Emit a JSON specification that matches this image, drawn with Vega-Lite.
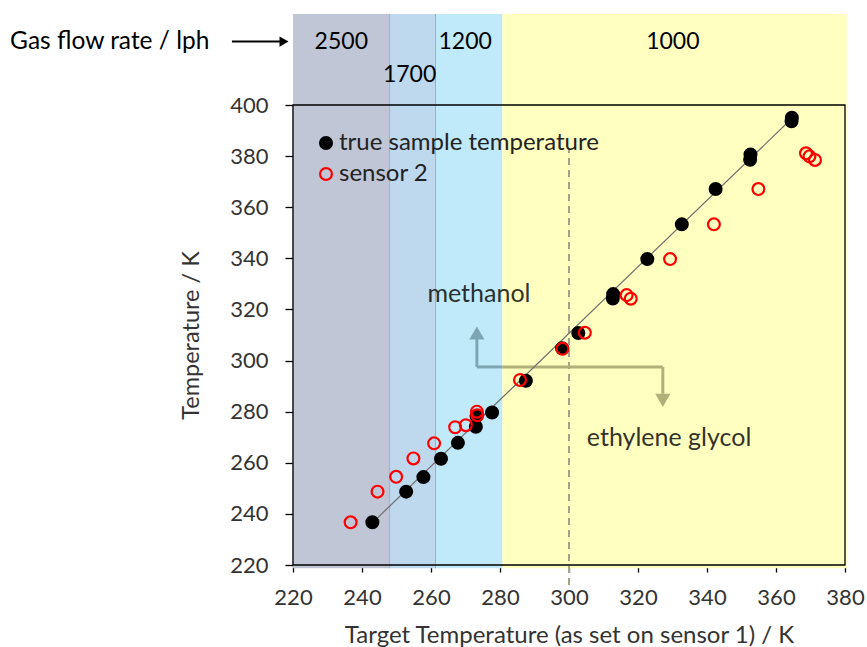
{
  "$schema": "https://vega.github.io/schema/vega-lite/v6.json",
  "width": 552,
  "height": 460,
  "autosize": {"type": "none"},
  "padding": {"left": 293, "top": 105, "right": 22, "bottom": 82},
  "background": "white",
  "config": {"font": "Lato", "view": {"stroke": null}},
  "datasets": {
    "bands": [
      {"x": 220, "x2": 248, "flow": "2500"},
      {"x": 248, "x2": 261.3, "flow": "1700"},
      {"x": 261.3, "x2": 280.7, "flow": "1200"},
      {"x": 280.7, "x2": 380.5, "flow": "1000"}
    ],
    "bandEdges": [{"x": 248}, {"x": 261.3}],
    "bandLabels": [
      {"label": "2500", "x": 234.0, "y": 424.8},
      {"label": "1700", "x": 253.8, "y": 411.7},
      {"label": "1200", "x": 269.9, "y": 424.8},
      {"label": "1000", "x": 330.1, "y": 424.8}
    ],
    "points": [
      {"series": "true sample temperature", "x": 243.0, "y": 236.7},
      {"series": "true sample temperature", "x": 252.8, "y": 248.7},
      {"series": "true sample temperature", "x": 257.8, "y": 254.4},
      {"series": "true sample temperature", "x": 262.9, "y": 261.6},
      {"series": "true sample temperature", "x": 267.8, "y": 267.8},
      {"series": "true sample temperature", "x": 273.0, "y": 274.1},
      {"series": "true sample temperature", "x": 273.2, "y": 278.3},
      {"series": "true sample temperature", "x": 277.7, "y": 279.7},
      {"series": "true sample temperature", "x": 287.5, "y": 292.1},
      {"series": "true sample temperature", "x": 298.0, "y": 304.8},
      {"series": "true sample temperature", "x": 302.7, "y": 310.8},
      {"series": "true sample temperature", "x": 312.7, "y": 324.3},
      {"series": "true sample temperature", "x": 312.8, "y": 326.0},
      {"series": "true sample temperature", "x": 322.7, "y": 339.7},
      {"series": "true sample temperature", "x": 332.7, "y": 353.3},
      {"series": "true sample temperature", "x": 342.5, "y": 367.1},
      {"series": "true sample temperature", "x": 352.5, "y": 378.6},
      {"series": "true sample temperature", "x": 352.6, "y": 380.6},
      {"series": "true sample temperature", "x": 364.5, "y": 393.6},
      {"series": "true sample temperature", "x": 364.6, "y": 395.0},
      {"series": "sensor 2", "x": 236.7, "y": 236.7},
      {"series": "sensor 2", "x": 244.5, "y": 248.7},
      {"series": "sensor 2", "x": 249.9, "y": 254.5},
      {"series": "sensor 2", "x": 254.9, "y": 261.7},
      {"series": "sensor 2", "x": 260.9, "y": 267.6},
      {"series": "sensor 2", "x": 267.0, "y": 273.9},
      {"series": "sensor 2", "x": 270.1, "y": 274.7},
      {"series": "sensor 2", "x": 273.3, "y": 280.0},
      {"series": "sensor 2", "x": 273.4, "y": 278.6},
      {"series": "sensor 2", "x": 285.8, "y": 292.4},
      {"series": "sensor 2", "x": 298.1, "y": 304.6},
      {"series": "sensor 2", "x": 304.6, "y": 310.9},
      {"series": "sensor 2", "x": 316.7, "y": 325.6},
      {"series": "sensor 2", "x": 317.9, "y": 324.2},
      {"series": "sensor 2", "x": 329.3, "y": 339.7},
      {"series": "sensor 2", "x": 342.0, "y": 353.3},
      {"series": "sensor 2", "x": 354.9, "y": 367.1},
      {"series": "sensor 2", "x": 368.7, "y": 381.1},
      {"series": "sensor 2", "x": 369.7, "y": 379.9},
      {"series": "sensor 2", "x": 371.3, "y": 378.5}
    ]
  },
  "layer": [
    {
      "data": {"name": "bands"},
      "mark": {"type": "rect"},
      "encoding": {
        "x": {"field": "x", "type": "quantitative", "scale": {"domain": [220, 380], "nice": false, "zero": false}},
        "x2": {"field": "x2"},
        "y": {"datum": 218.7, "type": "quantitative", "scale": {"domain": [220, 400], "nice": false, "zero": false}},
        "y2": {"datum": 435.6},
        "color": {"field": "flow", "type": "nominal", "scale": {"domain": ["2500", "1700", "1200", "1000"], "range": ["#c0c6d6", "#bed8ee", "#c0e9f9", "#ffffc0"]}, "legend": null}
      }
    },
    {
      "data": {"name": "bandEdges"},
      "mark": {"type": "rule", "color": "#8fb2d4", "strokeWidth": 1},
      "encoding": {
        "x": {"field": "x", "type": "quantitative"},
        "y": {"datum": 218.7, "type": "quantitative"},
        "y2": {"datum": 435.6}
      }
    },
    {
      "data": {"name": "bandLabels"},
      "mark": {"type": "text", "fontSize": 23, "color": "#000000", "align": "center", "baseline": "middle"},
      "encoding": {
        "x": {"field": "x", "type": "quantitative"},
        "y": {"field": "y", "type": "quantitative"},
        "text": {"field": "label"}
      }
    },
    {
      "data": {"values": [{"label": "Gas flow rate / lph", "x": 138.0, "y": 424.8}]},
      "mark": {"type": "text", "fontSize": 24.5, "color": "#000000", "align": "left", "baseline": "middle"},
      "encoding": {
        "x": {"field": "x", "type": "quantitative"},
        "y": {"field": "y", "type": "quantitative"},
        "text": {"field": "label"}
      }
    },
    {
      "data": {"values": [{"x": 202.3, "x2": 216.3, "y": 424.8}]},
      "mark": {"type": "rule", "color": "#000000", "strokeWidth": 2},
      "encoding": {
        "x": {"field": "x", "type": "quantitative"},
        "x2": {"field": "x2"},
        "y": {"field": "y", "type": "quantitative"}
      }
    },
    {
      "data": {"values": [{"x": 217.4, "y": 424.8}]},
      "mark": {"type": "point", "shape": "triangle-right", "size": 110, "filled": true, "color": "#000000", "opacity": 1},
      "encoding": {
        "x": {"field": "x", "type": "quantitative"},
        "y": {"field": "y", "type": "quantitative"}
      }
    },
    {
      "data": {"values": [{"x": 300, "y": 212.2, "y2": 382.4}]},
      "mark": {"type": "rule", "color": "#a3a38a", "strokeWidth": 2, "strokeDash": [7, 5]},
      "encoding": {
        "x": {"field": "x", "type": "quantitative"},
        "y": {"field": "y", "type": "quantitative"},
        "y2": {"field": "y2"}
      }
    },
    {
      "data": {"values": [
        {"x": 273.3, "x2": 273.3, "y": 297.5, "y2": 309},
        {"x": 273.3, "x2": 280.7, "y": 297.5, "y2": 297.5}
      ]},
      "mark": {"type": "rule", "color": "#7ea5b4", "strokeWidth": 3},
      "encoding": {
        "x": {"field": "x", "type": "quantitative"},
        "x2": {"field": "x2"},
        "y": {"field": "y", "type": "quantitative"},
        "y2": {"field": "y2"}
      }
    },
    {
      "data": {"values": [
        {"x": 280.7, "x2": 327.2, "y": 297.5, "y2": 297.5},
        {"x": 327.2, "x2": 327.2, "y": 297.5, "y2": 287}
      ]},
      "mark": {"type": "rule", "color": "#b0b078", "strokeWidth": 3},
      "encoding": {
        "x": {"field": "x", "type": "quantitative"},
        "x2": {"field": "x2"},
        "y": {"field": "y", "type": "quantitative"},
        "y2": {"field": "y2"}
      }
    },
    {
      "data": {"values": [{"x": 273.3, "y": 310.8}]},
      "mark": {"type": "point", "shape": "triangle-up", "size": 230, "filled": true, "color": "#7ea5b4", "opacity": 1},
      "encoding": {
        "x": {"field": "x", "type": "quantitative"},
        "y": {"field": "y", "type": "quantitative"}
      }
    },
    {
      "data": {"values": [{"x": 327.2, "y": 284.4}]},
      "mark": {"type": "point", "shape": "triangle-down", "size": 230, "filled": true, "color": "#b0b078", "opacity": 1},
      "encoding": {
        "x": {"field": "x", "type": "quantitative"},
        "y": {"field": "y", "type": "quantitative"}
      }
    },
    {
      "data": {"values": [
        {"label": "methanol", "x": 273.9, "y": 326.0},
        {"label": "ethylene glycol", "x": 329.0, "y": 269.7}
      ]},
      "mark": {"type": "text", "fontSize": 25, "color": "#000000", "opacity": 0.8, "align": "center", "baseline": "middle"},
      "encoding": {
        "x": {"field": "x", "type": "quantitative"},
        "y": {"field": "y", "type": "quantitative"},
        "text": {"field": "label"}
      }
    },
    {
      "data": {"values": [{"x": 243.0, "y": 236.5}, {"x": 364.8, "y": 395.0}]},
      "mark": {"type": "line", "color": "#6e6e6e", "strokeWidth": 1.2},
      "encoding": {
        "x": {"field": "x", "type": "quantitative"},
        "y": {"field": "y", "type": "quantitative"}
      }
    },
    {
      "data": {"name": "points"},
      "mark": {"type": "point", "shape": "circle", "size": 140, "strokeWidth": 2.2, "opacity": 1},
      "encoding": {
        "x": {
          "field": "x", "type": "quantitative",
          "axis": {
            "title": "Target Temperature (as set on sensor 1) / K",
            "values": [220,225,230,235,240,245,250,255,260,265,270,275,280,285,290,295,300,305,310,315,320,325,330,335,340,345,350,355,360,365,370,375,380],
            "labelExpr": "datum.value % 20 === 0 ? datum.label : ''",
            "grid": false,
            "domainColor": "#000000",
            "domainWidth": 1.3,
            "tickColor": "#000000",
            "tickWidth": 1.3,
            "tickSize": 7,
            "labelFontSize": 22,
            "labelColor": "#333333",
            "labelPadding": 15,
            "labelFlush": false,
            "labelOverlap": false,
            "titleFontSize": 24,
            "titleFontWeight": "normal",
            "titleColor": "#333333",
            "titlePadding": 15
          }
        },
        "y": {
          "field": "y", "type": "quantitative",
          "axis": {
            "title": "Temperature / K",
            "values": [220,225,230,235,240,245,250,255,260,265,270,275,280,285,290,295,300,305,310,315,320,325,330,335,340,345,350,355,360,365,370,375,380,385,390,395,400],
            "labelExpr": "datum.value % 20 === 0 ? datum.label : ''",
            "grid": false,
            "domainColor": "#000000",
            "domainWidth": 1.3,
            "tickColor": "#000000",
            "tickWidth": 1.3,
            "tickSize": {"condition": {"test": "datum.value % 20 === 0", "value": 8}, "value": 5},
            "labelFontSize": 22,
            "labelColor": "#333333",
            "labelPadding": 17,
            "labelFlush": false,
            "labelOverlap": false,
            "titleFontSize": 23.5,
            "titleFontWeight": "normal",
            "titleColor": "#333333",
            "titlePadding": 26
          }
        },
        "stroke": {
          "field": "series", "type": "nominal",
          "scale": {"domain": ["true sample temperature", "sensor 2"], "range": ["#000000", "#ff0000"]},
          "legend": {"orient": "none", "legendX": 21, "legendY": 26, "title": null, "labelFontSize": 24, "labelLimit": 400, "labelColor": "#222222", "symbolSize": 140, "symbolStrokeWidth": 2.2, "rowPadding": 7, "labelOffset": 1, "padding": 0}
        },
        "fill": {
          "field": "series", "type": "nominal",
          "scale": {"domain": ["true sample temperature", "sensor 2"], "range": ["#000000", "transparent"]},
          "legend": {"orient": "none", "legendX": 21, "legendY": 26, "title": null, "labelFontSize": 24, "labelLimit": 400, "labelColor": "#222222", "symbolSize": 140, "symbolStrokeWidth": 2.2, "rowPadding": 7, "labelOffset": 1, "padding": 0}
        }
      }
    },
    {
      "data": {"values": [{}]},
      "mark": {"type": "rect", "fill": null, "stroke": "#000000", "strokeWidth": 1.3},
      "encoding": {
        "x": {"datum": 220, "type": "quantitative"},
        "x2": {"datum": 380},
        "y": {"datum": 220, "type": "quantitative"},
        "y2": {"datum": 400}
      }
    }
  ]
}
